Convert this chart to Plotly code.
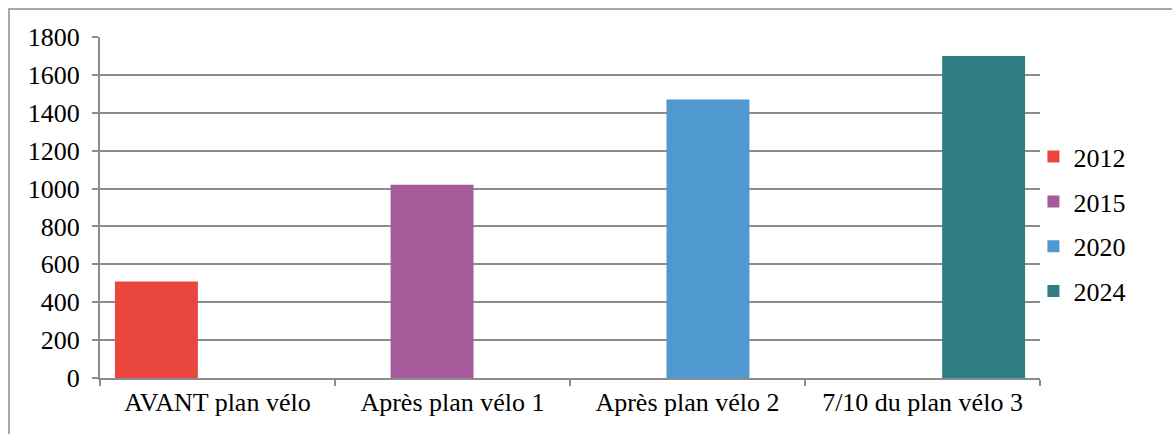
import plotly.graph_objects as go

# Bike-network data: one year per stage of the plan
categories = ["AVANT plan vélo", "Après plan vélo 1", "Après plan vélo 2", "7/10 du plan vélo 3"]
years = ["2012", "2015", "2020", "2024"]
values = [510, 1020, 1470, 1700]
colors = ["#E8463F", "#A55A9A", "#4F98D0", "#2F7E83"]

# Each series sits in its own slot inside the category (overlapping slots)
slot_centers = [-0.26, -0.087, 0.087, 0.26]
bar_width = 0.353

fig = go.Figure()
for i, (cat, yr, val, col) in enumerate(zip(categories, years, values, colors)):
    fig.add_trace(go.Bar(
        x=[cat], y=[val], name=yr,
        marker=dict(color=col, line=dict(width=0)),
        width=bar_width, offset=slot_centers[i] - bar_width / 2,
        legendgroup=yr,
    ))

grid_col = "#8C8C8C"
font = dict(family="Liberation Serif, Times New Roman, serif", size=26, color="#000000")

fig.update_layout(
    width=1172, height=434,
    margin=dict(l=100, r=132, t=37, b=56),
    paper_bgcolor="white", plot_bgcolor="white",
    barmode="overlay",
    font=font,
    showlegend=True,
    legend=dict(x=0.993, y=0.451, xanchor="left", yanchor="middle",
                font=font,
                tracegroupgap=8, itemwidth=30, traceorder="grouped",
                bgcolor="rgba(0,0,0,0)"),
    xaxis=dict(
        type="category", range=[-0.5, 3.5],
        showline=True, linecolor=grid_col, linewidth=2,
        ticks="outside", tickson="boundaries", ticklen=6, tickcolor=grid_col, tickwidth=2,
        showgrid=False, tickfont=font, zeroline=False,
    ),
    yaxis=dict(
        range=[0, 1800], dtick=200, tick0=0,
        showline=True, linecolor=grid_col, linewidth=2,
        ticks="outside", ticklen=6, tickcolor=grid_col, tickwidth=2,
        showgrid=True, gridcolor=grid_col, gridwidth=2,
        zeroline=False, tickfont=font, ticklabelstandoff=7,
    ),
    shapes=[dict(
        type="rect", xref="paper", yref="paper",
        x0=-0.0968, x1=1.145, y0=-0.18, y1=1.0821,
        line=dict(color="#8C8C8C", width=1.5), fillcolor="rgba(0,0,0,0)", layer="below",
    )],
)

fig.write_html("out.html")
